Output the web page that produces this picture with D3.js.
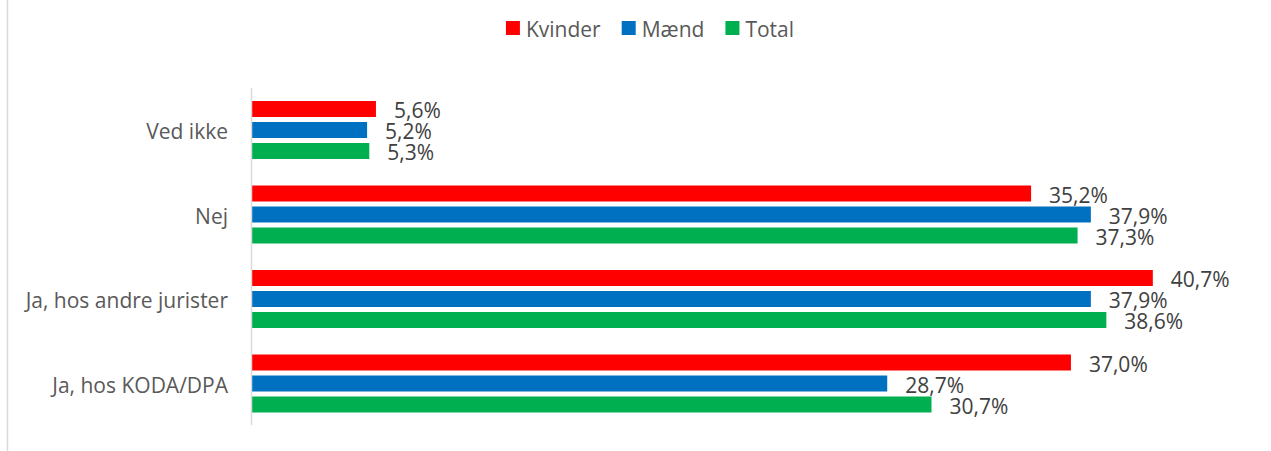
<!DOCTYPE html>
<html>
<head>
<meta charset="utf-8">
<script src="https://cdn.jsdelivr.net/npm/d3@7"></script>
<style>
  body { margin: 0; background: #fff; }
  text { font-family: 'Open Sans', sans-serif; }
</style>
</head>
<body>
<svg id="chart"></svg>
<script>
const categories = ['Ved ikke', 'Nej', 'Ja, hos andre jurister', 'Ja, hos KODA/DPA'];
const seriesNames = ['Kvinder', 'Mænd', 'Total'];
const kvinder = [5.6, 35.2, 40.7, 37.0];
const maend = [5.2, 37.9, 37.9, 28.7];
const total = [5.3, 37.3, 38.6, 30.7];
const colors = ['#ff0000', '#0070c0', '#00b050'];

const width = 1271;
const height = 451;
const values = [kvinder, maend, total];

const svg = d3.select('#chart')
  .attr('width', width)
  .attr('height', height);

// chart frame edge on the left
svg.append('line')
  .attr('x1', 7.5).attr('x2', 7.5)
  .attr('y1', 0).attr('y2', height)
  .attr('stroke', '#d9d9d9')
  .attr('stroke-width', 1.5);

const x = d3.scaleLinear().domain([0, 45]).range([252, 1248]);
const y = d3.scaleBand().domain(categories).range([88, 426]);
const inner = d3.scaleBand()
  .domain(seriesNames)
  .range([13, 71])
  .paddingInner(5 / 21);

const rows = [];
categories.forEach((c, i) => {
  seriesNames.forEach((s, j) => {
    rows.push({ category: c, series: s, value: values[j][i], color: colors[j] });
  });
});

svg.append('g')
  .selectAll('rect')
  .data(rows)
  .enter()
  .append('rect')
  .attr('x', x(0))
  .attr('y', d => y(d.category) + inner(d.series))
  .attr('width', d => x(d.value) - x(0))
  .attr('height', inner.bandwidth())
  .attr('fill', d => d.color);

svg.append('g')
  .selectAll('text')
  .data(rows)
  .enter()
  .append('text')
  .attr('x', d => x(d.value) + 18)
  .attr('y', d => y(d.category) + inner(d.series) + inner.bandwidth() / 2 + 1)
  .attr('dominant-baseline', 'central')
  .attr('font-size', '21px')
  .attr('fill', '#404040')
  .text(d => d.value.toFixed(1).replace('.', ',') + '%');

// vertical axis
svg.append('line')
  .attr('x1', x(0) - 0.5).attr('x2', x(0) - 0.5)
  .attr('y1', 88).attr('y2', 425)
  .attr('stroke', '#d9d9d9')
  .attr('stroke-width', 1.5);

svg.append('g')
  .selectAll('text')
  .data(categories)
  .enter()
  .append('text')
  .attr('x', 228)
  .attr('y', d => y(d) + y.bandwidth() / 2 + 1)
  .attr('dominant-baseline', 'central')
  .attr('text-anchor', 'end')
  .attr('font-size', '21px')
  .attr('fill', '#595959')
  .text(d => d);

// legend
const legend = svg.append('g');
const items = legend.selectAll('g')
  .data(seriesNames)
  .enter()
  .append('g');

items.append('rect')
  .attr('width', 14)
  .attr('height', 14)
  .attr('y', 21)
  .attr('fill', (d, i) => colors[i]);

items.append('text')
  .attr('x', 20)
  .attr('y', 29)
  .attr('dominant-baseline', 'central')
  .attr('font-size', '21px')
  .attr('fill', '#595959')
  .text(d => d);

let offset = 0;
const positions = [];
items.each(function () {
  const w = 20 + d3.select(this).select('text').node().getComputedTextLength();
  positions.push(offset);
  offset += w + 21;
});
const totalWidth = offset - 21;
items.attr('transform', (d, i) => 'translate(' + (650 - totalWidth / 2 + positions[i]) + ',0)');
</script>
</body>
</html>
